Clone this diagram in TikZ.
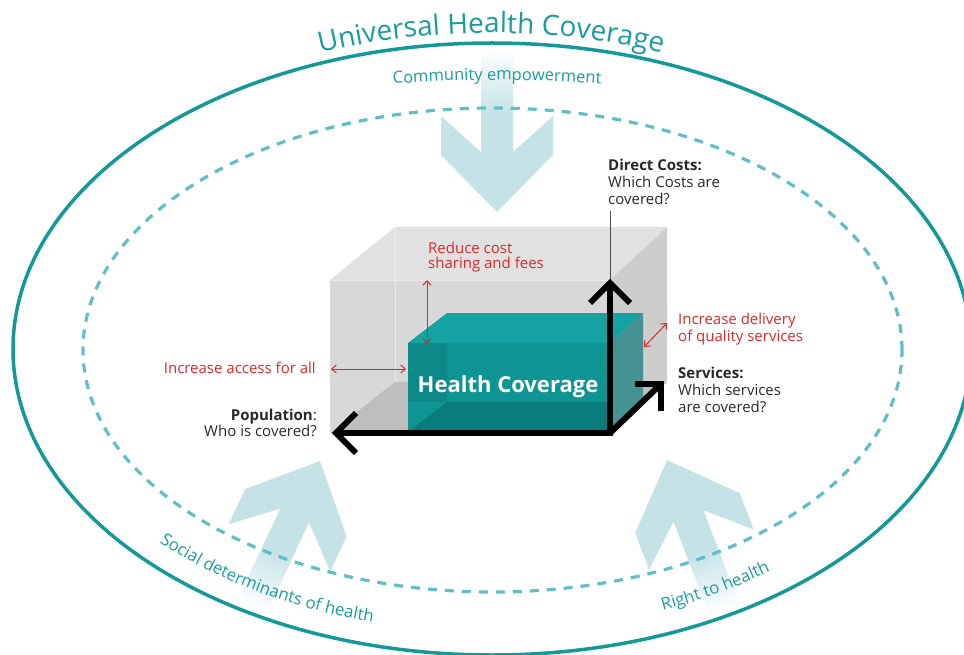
\documentclass[tikz,border=0pt]{standalone}
\usepackage{fontspec}
\setmainfont{Open Sans}
\usetikzlibrary{arrows.meta,decorations.text}

\definecolor{tealline}{RGB}{20,152,152}
\definecolor{tealtxt}{RGB}{26,156,156}
\definecolor{dashc}{RGB}{96,190,198}
\definecolor{arrowc}{RGB}{197,227,231}
\definecolor{redc}{RGB}{214,42,42}
\definecolor{txtc}{RGB}{40,40,40}
\definecolor{gfront}{RGB}{216,216,216}
\definecolor{gtop}{RGB}{225,225,225}
\definecolor{gright}{RGB}{205,205,205}
\definecolor{gfloor}{RGB}{190,190,190}
\definecolor{ttop}{RGB}{20,162,162}
\definecolor{tfront}{RGB}{15,148,148}
\definecolor{tleft}{RGB}{12,136,137}
\definecolor{tbottom}{RGB}{11,124,125}
\definecolor{tright}{RGB}{70,146,146}

\newcommand\ttlfont{\color{tealtxt}\fontsize{28}{33}\selectfont}
\newcommand\subfont{\color{tealtxt}\fontsize{16.5}{19}\selectfont}
\newcommand\botfont{\color{tealtxt}\fontsize{16.8}{19}\selectfont}

\newcommand\bigArrow[2]{%
  \begin{scope}[shift={#1},rotate=#2]
    \fill[arrowc] (0,0) -- (56,-57) -- (56,-96) -- (16,-60) -- (16,-101)
      -- (-16,-101) -- (-16,-60) -- (-56,-96) -- (-56,-57) -- cycle;
    \foreach \i in {0,...,11}{%
      \pgfmathtruncatemacro\pc{96-8*\i}%
      \fill[arrowc!\pc!white] (-16,{-100-5*\i}) rectangle (16,{-105.6-5*\i});}
  \end{scope}}

\tikzset{
  lbl/.style={font=\fontsize{15}{16.8}\selectfont, text=txtc, inner sep=0pt},
  rlbl/.style={lbl, text=redc},
  blk/.style={line width=6pt, black, line join=miter},
  redarr/.style={redc, line width=1pt, <->, >={Straight Barb[length=4.5pt,width=8pt]}},
}

\begin{document}
\begin{tikzpicture}[x=1pt,y=1pt]
\useasboundingbox (0,0) rectangle (964,-655);

% large light arrows
\bigArrow{(497,-212)}{180}
\bigArrow{(320,-461)}{-25}
\bigArrow{(667,-460)}{21}

% ellipses
\draw[tealline, line width=3.5pt] (492,-349) ellipse [x radius=479, y radius=306];
\draw[dashc, line width=3.2pt, dash pattern=on 9pt off 8pt] (492.5,-350) ellipse [x radius=409.5, y radius=242];

% curved texts
\path[decorate, decoration={text along path, text align=center,
  text={|\ttlfont|Universal Health Coverage}}]
  (491,-349) ++(150:487 and 316) arc[start angle=150, end angle=30, x radius=487, y radius=316];
\path[decorate, decoration={text along path, text align=center,
  text={|\subfont|Community empowerment}}]
  (497,-349) ++(120:620 and 269) arc[start angle=120, end angle=60, x radius=620, y radius=269];
\path[decorate, decoration={text along path, text align=left,
  text={|\botfont|Social determinants of health}}]
  (490,-349) ++(223:452 and 283) arc[start angle=223, end angle=300, x radius=452, y radius=283];
\path[decorate, decoration={text along path, text align=left,
  text={|\botfont|Right to health}}]
  (490,-349) ++(292.5:452 and 283) arc[start angle=292.5, end angle=350, x radius=452, y radius=283];

% grey outer box
\fill[gfront] (330,-280) rectangle (610,-433);
\fill[gtop] (330,-280) -- (395,-227) -- (667,-227) -- (610,-280) -- cycle;
\fill[gright] (610,-280) -- (667,-227) -- (667,-382) -- (610,-433) -- cycle;
\fill[gfloor] (330,-433) -- (395,-382) -- (667,-382) -- (610,-433) -- cycle;
\draw[white, opacity=0.45, line width=0.8pt] (395,-227) -- (395,-382);
\draw[white, opacity=0.45, line width=0.8pt] (330,-280) -- (610,-280);

% teal inner box
\fill[ttop] (408,-343) -- (447,-313) -- (643,-313) -- (610,-343) -- cycle;
\fill[tfront] (408,-343) rectangle (610,-432);
\fill[tleft] (408,-343) rectangle (447,-402);
\fill[tbottom] (408,-432) -- (447,-402) -- (610,-402) -- (610,-432) -- cycle;
\fill[tright] (610,-343) -- (643,-313) -- (643,-402) -- (610,-432) -- cycle;
\node[font=\bfseries\fontsize{22}{26}\selectfont, text=white, inner sep=0pt, anchor=base]
  (hc) at (508,-392) {Health Coverage};

% labels
\node[lbl, align=left, anchor=north west] (dc) at (608,-159)
  {\textbf{Direct Costs:}\\Which Costs are\\covered?};
\node[lbl, align=left, anchor=north west] (sv) at (678,-367)
  {\textbf{Services:}\\Which services\\are covered?};
\node[lbl, align=right, anchor=north east] (pop) at (317,-408.5)
  {\textbf{Population}:\\Who is covered?};
\node[rlbl, align=left, anchor=north west] (idl) at (678,-313)
  {Increase delivery\\of quality services};
\node[rlbl, align=left, anchor=north west, font=\fontsize{15}{15.8}\selectfont] (rc) at (428,-241.5)
  {Reduce cost\\sharing and fees};
\node[rlbl, anchor=base east] (iaa) at (316,-373) {Increase access for all};

% axis arrows
\coordinate (O) at (610,-433);
\coordinate (Px) at (336,-433);
\coordinate (Pz) at (610,-283);
\coordinate (Ps) at (661,-384);
\coordinate (dcl) at (610,-211);
\draw[gray!60!black, line width=0.8pt] (dcl) -- (Pz);
\draw[blk] (Pz) -- (O) -- (Px);
\draw[blk] (O) -- (Ps);
\draw[blk] (356,-413) -- (Px) -- (356,-453);
\draw[blk] (590,-303) -- (Pz) -- (630,-303);
\draw[blk] (635,-384) -- (Ps) -- (661,-411);

% red arrows
\coordinate (ra1) at (427,-280); \coordinate (ra2) at (427,-344);
\coordinate (rb1) at (331,-369); \coordinate (rb2) at (406,-369);
\coordinate (rc1) at (644,-347); \coordinate (rc2) at (667,-323);
\draw[redarr] (ra1) -- (ra2);
\draw[redarr] (rb1) -- (rb2);
\draw[redarr] (rc1) -- (rc2);
\end{tikzpicture}
\end{document}
